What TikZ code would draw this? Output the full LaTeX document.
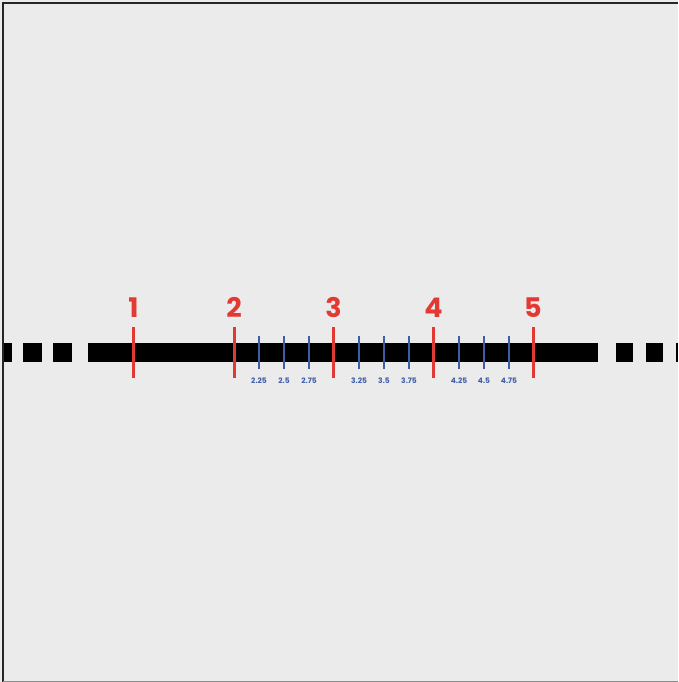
\documentclass[tikz,border=0pt]{standalone}
\usepackage{fontspec}
\setmainfont{Poppins}
\definecolor{bg}{HTML}{EBEBEB}
\definecolor{tickred}{HTML}{E23A33}
\definecolor{tickblue}{HTML}{3E5DA8}
\tikzset{
  barpart/.style={fill=black},
  redtick/.style={draw=tickred, line width=3pt},
  bluetick/.style={draw=tickblue, line width=1.8pt},
  redlabel/.style={text=tickred, font=\fontsize{27}{27}\selectfont\bfseries, inner sep=0pt, anchor=base},
  bluelabel/.style={text=tickblue, font=\fontsize{7.5}{7.5}\selectfont\bfseries, inner sep=0pt, anchor=base},
}
\begin{document}
\begin{tikzpicture}[x=1pt,y=-1pt]
\useasboundingbox (0,0) rectangle (678,682);
\fill[bg] (0,0) rectangle (678,682);
\draw[draw=black!85, line width=2.5pt] (3,682) -- (3,3) -- (678,3);
\draw[draw=black!45, line width=1.5pt] (3,681.5) -- (678,681.5);
% bar
\fill[barpart] (4,343) rectangle (12,362);
\fill[barpart] (23,343) rectangle (42,362);
\fill[barpart] (53,343) rectangle (72,362);
\fill[barpart] (88,343) rectangle (598,362);
\fill[barpart] (616,343) rectangle (633,362);
\fill[barpart] (646,343) rectangle (663,362);
\fill[barpart] (676,343) rectangle (678,362);
% blue ticks
\foreach \x/\t in {259/2.25,284/2.5,309/2.75,359/3.25,384/3.5,409/3.75,459/4.25,484/4.5,509/4.75}{
  \draw[bluetick] (\x,336) -- (\x,369);
  \node[bluelabel] (b\t) at (\x,383) {\t};
}
% red ticks
\foreach \x/\n in {133.5/1,234/2,333.5/3,433.5/4,533/5}{
  \draw[redtick] (\x,327) -- (\x,378);
  \node[redlabel] (r\n) at (\x,317) {\n};
}
\end{tikzpicture}
\end{document}
